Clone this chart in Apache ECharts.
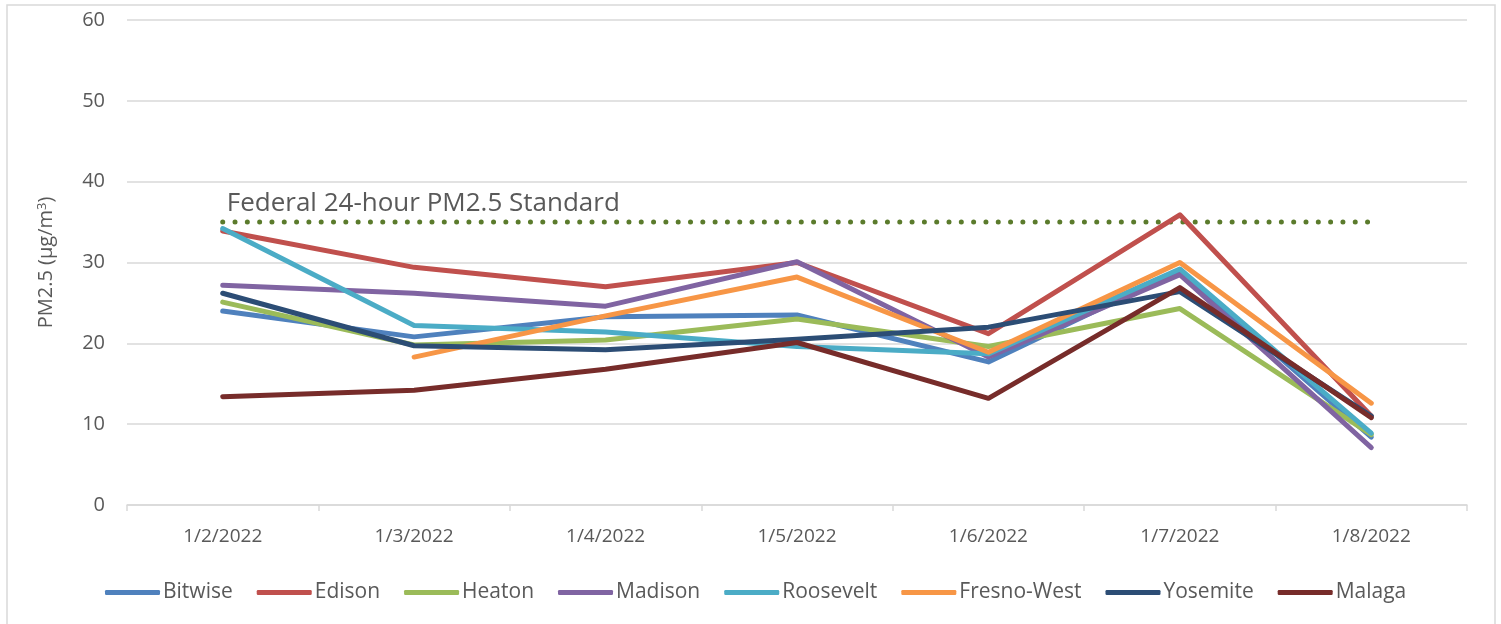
<!DOCTYPE html>
<html>
<head>
<meta charset="utf-8">
<script src="https://cdn.jsdelivr.net/npm/echarts@6/dist/echarts.min.js"></script>
<style>
html,body{margin:0;padding:0;background:#fff;}
#chart{width:1501px;height:624px;}
</style>
</head>
<body>
<div id="chart"></div>
<script>
const categories = ['1/2/2022','1/3/2022','1/4/2022','1/5/2022','1/6/2022','1/7/2022','1/8/2022'];
const bitwise    = [24.0, 20.8, 23.3, 23.5, 17.7, 29.0, 8.4];
const edison     = [33.9, 29.4, 27.0, 30.0, 21.2, 35.9, 11.0];
const heaton     = [25.1, 19.8, 20.4, 23.0, 19.6, 24.3, 8.7];
const madison    = [27.2, 26.2, 24.6, 30.1, 18.3, 28.5, 7.1];
const roosevelt  = [34.2, 22.2, 21.4, 19.6, 18.7, 29.2, 8.9];
const fresnoWest = [null, 18.3, 23.4, 28.2, 18.9, 30.0, 12.6];
const yosemite   = [26.2, 19.7, 19.2, 20.5, 22.0, 26.4, 11.0];
const malaga     = [13.4, 14.2, 16.8, 20.1, 13.2, 26.9, 10.8];
const standard   = [35, 35, 35, 35, 35, 35, 35];
const standardLabel = 'Federal 24-hour PM2.5 Standard';
const yTicks = [0, 10, 20, 30, 40, 50, 60];

const seriesDefs = [
  ['Bitwise', bitwise, '#4F81BD'],
  ['Edison', edison, '#C0504D'],
  ['Heaton', heaton, '#9BBB59'],
  ['Madison', madison, '#8064A2'],
  ['Roosevelt', roosevelt, '#4BACC6'],
  ['Fresno-West', fresnoWest, '#F79646'],
  ['Yosemite', yosemite, '#2C4D75'],
  ['Malaga', malaga, '#772C2A']
];

const FONT = 'Open Sans';
const series = seriesDefs.map(([name, data, color]) => ({
  name, type: 'line', data, color,
  symbol: 'none', smooth: false,
  connectNulls: false,
  lineStyle: { width: 5, color, cap: 'round', join: 'round' },
  emphasis: { disabled: true }
}));

series.push({
  name: standardLabel, type: 'line',
  data: standard.map((v, i) => i === 0 ? { value: v, label: { show: true } } : v),
  symbol: 'circle', symbolSize: 0.1, showSymbol: true, color: '#5B7B2C', z: 1,
  lineStyle: { width: 5, color: '#5B7B2C', type: [0.01, 12.3], cap: 'round' },
  label: {
    show: false, position: 'right', offset: [-1, -18],
    formatter: standardLabel, color: '#595959', fontSize: 26, fontFamily: FONT
  },
  emphasis: { disabled: true }
});

const chart = echarts.init(document.getElementById('chart'));
chart.setOption({
  animation: false,
  backgroundColor: '#fff',
  graphic: [{
    type: 'rect', shape: { x: 7, y: 5, width: 1488, height: 640 },
    style: { fill: 'none', stroke: '#d9d9d9', lineWidth: 1.5 }, z: -1
  }],
  grid: { left: 127, right: 34, top: 20, bottom: 119 },
  legend: {
    data: seriesDefs.map(d => d[0]),
    left: 100, top: 577,
    icon: 'roundRect', itemWidth: 55, itemHeight: 5, itemGap: 24,
    textStyle: { color: '#595959', fontSize: 21, fontFamily: FONT, padding: [0, 0, 0, -2] }
  },
  xAxis: {
    type: 'category', data: categories, boundaryGap: true,
    axisLine: { lineStyle: { color: '#d9d9d9', width: 1.5 } },
    axisTick: { show: true, length: 6, lineStyle: { color: '#d9d9d9', width: 1.5 } },
    axisLabel: { color: '#595959', fontSize: 19, fontFamily: FONT, margin: 22 },
    splitLine: { show: false }
  },
  yAxis: {
    type: 'value', min: yTicks[0], max: yTicks[yTicks.length - 1], interval: 10,
    name: 'PM2.5 (µg/m{sup|3})', nameLocation: 'middle', nameGap: 70, nameRotate: 90,
    nameTextStyle: {
      color: '#595959', fontSize: 20, fontFamily: FONT,
      rich: { sup: { fontSize: 13, verticalAlign: 'top', padding: [0, 0, 8, 0], color: '#595959', fontFamily: FONT } }
    },
    axisLine: { show: false }, axisTick: { show: false },
    axisLabel: { color: '#595959', fontSize: 20, fontFamily: FONT, margin: 22 },
    splitLine: { lineStyle: { color: '#d9d9d9', width: 1.5 } }
  },
  series
});
</script>
</body>
</html>
